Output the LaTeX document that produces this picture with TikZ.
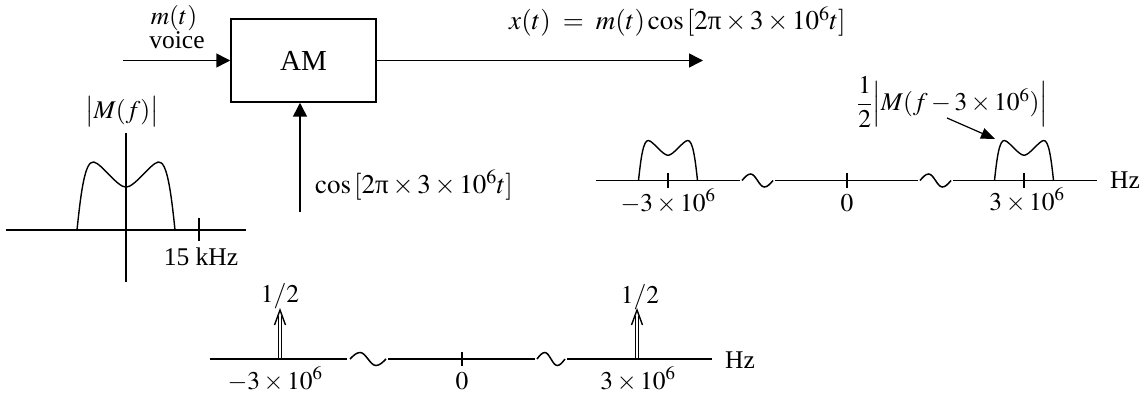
\documentclass[tikz,border=0pt]{standalone}
\usepackage{amsmath}
\usepackage{mathptmx}
\usepackage{fontspec}
\setmainfont{Liberation Serif}
\usetikzlibrary{arrows.meta,calc}
\newcommand{\uppiT}{\textrm{π}}
\newcommand{\mybump}[4]{%
  \begin{scope}[shift={(#1,#2)},xscale=#3,yscale=#4]
    \draw[curve] (-1,0) .. controls (-0.92,-0.55) and (-0.84,-1.02) .. (-0.66,-1.0)
      .. controls (-0.5,-0.98) and (-0.18,-0.63) .. (0,-0.63)
      .. controls (0.18,-0.63) and (0.5,-0.98) .. (0.66,-1.0)
      .. controls (0.84,-1.02) and (0.92,-0.55) .. (1,0);
  \end{scope}}
\newcommand{\mysquig}[3]{%
  \draw[ax] (#1,#3) sin ({#1+0.28*(#2-#1)},{#3-6.5}) cos ({(#1+#2)/2},#3)
    sin ({#1+0.72*(#2-#1)},{#3+6.5}) cos (#2,#3);}
\newcommand{\myimp}[3]{%
  \draw[line width=1.1pt] (#1-1.9,#2) -- (#1-1.9,#3+6);
  \draw[line width=1.1pt] (#1+1.9,#2) -- (#1+1.9,#3+6);
  \draw[line width=1.4pt,line join=miter] (#1-5.5,#3+15) -- (#1,#3) -- (#1+5.5,#3+15);}
\begin{document}
\begin{tikzpicture}[x=1pt,y=-1pt,
  lbl/.style={inner sep=0pt,font=\fontsize{25.5}{30}\selectfont},
  mlbl/.style={inner sep=0pt,font=\fontsize{27}{32}\selectfont},
  ax/.style={line width=1.5pt},
  curve/.style={line width=1.4pt},
  arr/.style={line width=1.5pt,-{Triangle[length=14pt,width=14pt]}},
  smallarr/.style={line width=1.2pt,-{Triangle[length=14pt,width=11pt]}}]
\useasboundingbox (0,0) rectangle (1147,393);

% block diagram
\node[lbl,anchor=base] (mt) at (174,25) {$m(t)$};
\node[lbl,anchor=base] (voice) at (177,49) {voice};
\node[draw,line width=1.5pt,minimum width=145pt,minimum height=83pt,inner sep=0pt,
      font=\fontsize{29}{32}\selectfont] (am) at (303.5,60.5) {AM};
\coordinate (inp) at (123,60.5);
\draw[arr] (inp) -- (am.west);
\coordinate (outp) at (703,60.5);
\draw[arr] (am.east) -- (outp);
\node[mlbl,anchor=base west] (xt) at (509,30) {$x(t)\;=\;m(t)\cos\,[2\uppiT\times3\times10^6t]$};
\coordinate (carr) at (300,212);
\draw[arr] (carr) -- (carr |- am.south);
\node[mlbl,anchor=base west] (cosl) at (315,193) {$\cos\,[2\uppiT\times3\times10^6t]$};

% |M(f)|
\node[lbl,anchor=base] (Mf) at (122,118) {$\bigl|M(f)\bigr|$};
\draw[ax] (6,230) -- (246,230);
\draw[ax] (126,133) -- (126,282);
\mybump{126}{230}{49}{68}
\draw[ax] (199,218) -- (199,241);
\node[lbl,anchor=base] (khz) at (201,265) {15 kHz};

% modulated spectrum
\draw[ax] (596,180.5) -- (740,180.5);
\mysquig{742}{773}{180.5}
\draw[ax] (775,180.5) -- (918,180.5);
\mysquig{920}{951}{180.5}
\draw[ax] (953,180.5) -- (1097,180.5);
\draw[ax] (668,173) -- (668,188);
\draw[ax] (847,173) -- (847,188);
\draw[ax] (1024,173) -- (1024,188);
\mybump{668}{180.5}{29.5}{40}
\mybump{1024}{180.5}{29.5}{40}
\node[lbl,anchor=base] (l1) at (668,211) {$-3\times10^6$};
\node[lbl,anchor=base] (l2) at (847,211) {$0$};
\node[lbl,anchor=base] (l3) at (1027,210) {$3\times10^6$};
\node[lbl,anchor=base west] (hz1) at (1110,188) {Hz};
\node[lbl,anchor=west] (ann) at (857,102) {$\dfrac{1}{2}\Bigl|M(f-3\times10^6)\Bigr|$};
\coordinate (annS) at (947,118);
\coordinate (annE) at (995,139);
\draw[smallarr] (annS) -- (annE);

% carrier spectrum
\draw[ax] (210,359) -- (347,359);
\mysquig{350}{386}{359}
\draw[ax] (388,359) -- (535,359);
\mysquig{537}{565}{359}
\draw[ax] (567,359) -- (712,359);
\draw[ax] (462,352) -- (462,366);
\myimp{280}{359}{310}
\myimp{637}{359}{310}
\node[lbl,anchor=base] (h1) at (280,302) {$1/2$};
\node[lbl,anchor=base] (h2) at (640,303) {$1/2$};
\node[lbl,anchor=base] (b1) at (275,389) {$-3\times10^6$};
\node[lbl,anchor=base] (b2) at (462,389) {$0$};
\node[lbl,anchor=base] (b3) at (638,389) {$3\times10^6$};
\node[lbl,anchor=base west] (hz2) at (725,368) {Hz};
\end{tikzpicture}
\end{document}
